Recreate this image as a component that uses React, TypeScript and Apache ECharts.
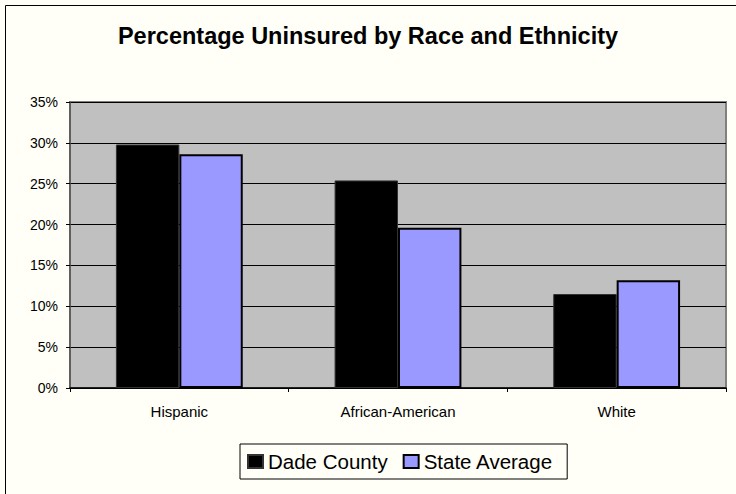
import React, { useEffect, useRef } from "react";
import * as echarts from "echarts";

const categories = ["Hispanic", "African-American", "White"];
const dadeCounty = [29.8, 25.4, 11.5];
const stateAverage = [28.6, 19.6, 13.2];
const seriesNames = ["Dade County", "State Average"];
const titleText = "Percentage Uninsured by Race and Ethnicity";

export default function App() {
  const ref = useRef<HTMLDivElement>(null);
  useEffect(() => {
    if (!ref.current) return;
    const chart = echarts.init(ref.current, undefined, { renderer: "svg" });
    const font = "Arial, 'Liberation Sans', Helvetica, sans-serif";
    chart.setOption({
      animation: false,
      backgroundColor: "#FFFFF7",
      textStyle: { fontFamily: font },
      title: {
        text: titleText,
        left: 363,
        textAlign: "center",
        top: 19,
        textStyle: { fontSize: 23.5, fontWeight: "bold", color: "#000", fontFamily: font },
      },
      graphic: [
        {
          type: "rect",
          shape: { x: 5.5, y: 5.5, width: 800, height: 600 },
          style: { fill: "none", stroke: "#000", lineWidth: 1 },
          silent: true,
        },
      ],
      legend: {
        data: seriesNames,
        left: 240,
        top: 444,
        orient: "horizontal",
        itemWidth: 15,
        itemHeight: 13,
        itemGap: 15,
        padding: [7, 14, 7, 7],
        borderColor: "#000",
        borderWidth: 1,
        backgroundColor: "#FFFFF7",
        icon: "rect",
        textStyle: { fontSize: 20.5, color: "#000", fontFamily: font },
      },
      grid: {
        left: 70,
        right: 10,
        top: 102,
        bottom: 106,
        show: true,
        backgroundColor: "#C0C0C0",
        borderColor: "#808080",
        borderWidth: 2,
        containLabel: false,
      },
      xAxis: {
        type: "category",
        data: categories,
        axisLine: { show: true, lineStyle: { color: "#000", width: 1.5 } },
        axisTick: { show: true, length: 4, lineStyle: { color: "#000" } },
        axisLabel: { fontSize: 15, color: "#000", margin: 16, fontFamily: font },
        splitLine: { show: false },
      },
      yAxis: {
        type: "value",
        min: 0,
        max: 35,
        interval: 5,
        axisLine: { show: true, lineStyle: { color: "#555", width: 1.5 } },
        axisTick: { show: true, length: 4, lineStyle: { color: "#000" } },
        axisLabel: { fontSize: 14, color: "#000", margin: 12, formatter: "{value}%", fontFamily: font },
        splitLine: { show: true, lineStyle: { color: "#000", width: 1 } },
      },
      series: [
        {
          name: seriesNames[0],
          type: "bar",
          data: dadeCounty,
          barGap: "0%",
          barCategoryGap: "42%",
          itemStyle: { color: "#000", borderColor: "#333", borderWidth: 1 },
        },
        {
          name: seriesNames[1],
          type: "bar",
          data: stateAverage,
          itemStyle: { color: "#9999FF", borderColor: "#000", borderWidth: 2 },
        },
      ],
    });
    return () => chart.dispose();
  }, []);
  return (
    <div
      ref={ref}
      style={{ position: "absolute", left: 0, top: 0, width: 736, height: 494 }}
    />
  );
}
